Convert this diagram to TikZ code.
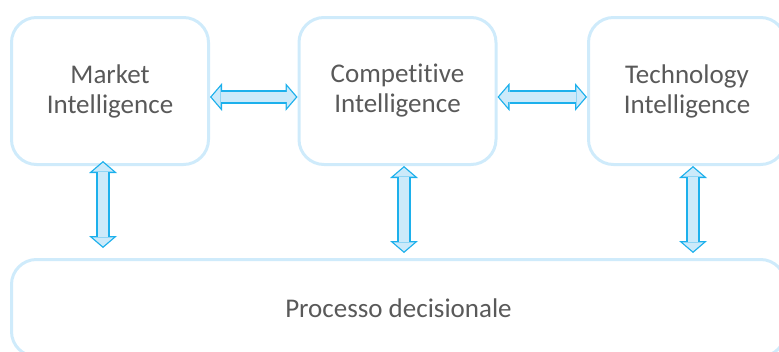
\documentclass[tikz,border=0pt]{standalone}
\usepackage{fontspec}
\setmainfont{Carlito}[Ligatures=NoCommon]
\usetikzlibrary{arrows.meta}
\definecolor{boxline}{HTML}{CFEBFB}
\definecolor{arrowline}{HTML}{1CB0EC}
\definecolor{arrowfill}{HTML}{CCEAFA}
\definecolor{labeltext}{HTML}{595959}
\begin{document}
\begin{tikzpicture}[x=1pt, y=-1pt,
    area/.style ={draw=boxline, line width=3pt, rounded corners=25pt,
      minimum width=197pt, minimum height=147pt, align=center,
      text=labeltext, font=\fontsize{27}{30}\selectfont},
    % outline of the block arrow, then its light inside on top
    link/.style ={draw=arrowline, line width=13.1pt,
      >={Triangle[width=28pt, length=12pt, line width=0pt]}, <->,
      postaction={draw=arrowfill, line width=10.5pt,
        >={Triangle[width=21pt, length=9pt, line width=0pt]}, <->,
        shorten >=1.7pt, shorten <=1.7pt}}]
   \useasboundingbox (0,0) rectangle (779,351);
   \clip (0,0) rectangle (779,351);

   \node[area] (market)  at (110,91)   {Market\\Intelligence};
   \node[area] (compet)  at (397.5,91) {Competitive\\Intelligence};
   \node[area] (techno)  at (687,91)   {Technology\\Intelligence};
   \node[area, minimum width=774pt, minimum height=97pt] (process) at (398.5,308) {Processo decisionale};

   \draw[link] ([yshift=-6pt]market.east) to  ([yshift=-6pt]compet.west);
   \draw[link] ([yshift=-6pt]compet.east) to  ([yshift=-6pt]techno.west);

   \draw[link] ([xshift=-7pt, yshift=5pt]market.south) to  ([xshift=-7pt, yshift=10pt]market.south |- process.north);
   \draw[link] ([xshift=6.5pt]compet.south) to  ([xshift=6.5pt, yshift=5pt]compet.south |- process.north);
   \draw[link] ([xshift=6pt]techno.south) to  ([xshift=6pt, yshift=5pt]techno.south |- process.north);

 \end{tikzpicture}
\end{document}
